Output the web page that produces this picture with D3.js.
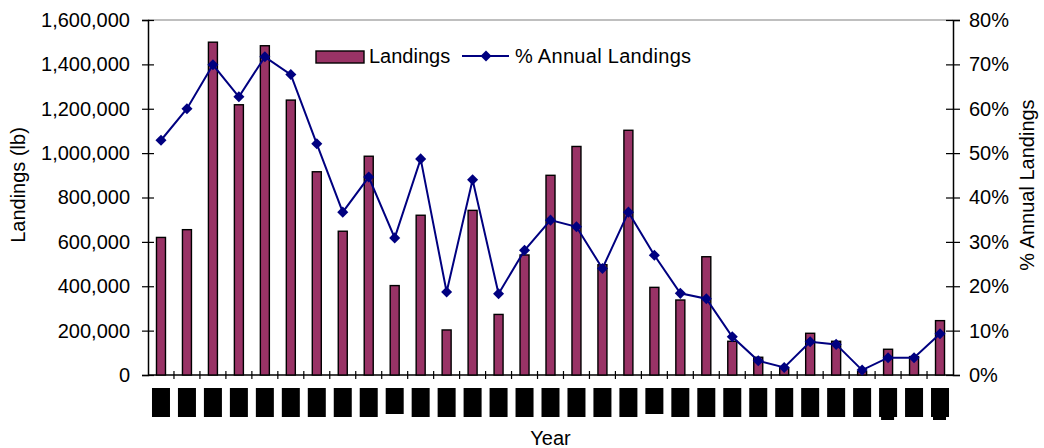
<!DOCTYPE html>
<html>
<head>
<meta charset="utf-8">
<script src="https://cdn.jsdelivr.net/npm/d3@7"></script>
<style>
    body { margin: 0; background: #fff; }
    svg { display: block; font-family: "Liberation Sans", Arial, sans-serif; }
</style>
</head>
<body>
<div id="viz"></div>
<script>
"use strict";
// values (year labels are blacked out there)
const yearIndex = d3.range(31);
const landings = [
    620000, 655000, 1500000, 1218000, 1484000, 1239000, 916000, 648000, 986000, 403000,
    720000, 203000, 742000, 273000, 541000, 900000, 1030000, 497000, 1103000, 395000,
    338000, 533000, 152000, 80000, 30000, 188000, 152000, 15000, 116000, 83000, 245000
];
const pctAnnual = [
    0.529, 0.600, 0.699, 0.627, 0.717, 0.677, 0.521, 0.367, 0.446, 0.309,
    0.487, 0.187, 0.440, 0.183, 0.281, 0.349, 0.334, 0.240, 0.367, 0.270,
    0.184, 0.172, 0.086, 0.032, 0.017, 0.075, 0.069, 0.011, 0.039, 0.039, 0.093
];
const leftTicks = d3.range(0, 1600001, 200000);
const rightTicks = d3.range(0, 0.81, 0.1);

(function(){
    const measurements = {
        width: 1044,
        height: 448,
        left: 148,
        right: 953,
        top: 20,
        bottom: 375
    }
    const colors = { bar: "#993366", line: "#000080" }

    const svg = d3.select('#viz').append("svg")
        .attr('width', measurements.width)
        .attr('height', measurements.height);

    const scaleX = d3.scaleBand()
        .domain(yearIndex)
        .range([measurements.left, measurements.right]);
    const scaleY = d3.scaleLinear()
        .domain([0, 1600000])
        .range([measurements.bottom, measurements.top]);
    const scaleY2 = d3.scaleLinear()
        .domain([0, 0.8])
        .range([measurements.bottom, measurements.top]);

    // plot area top border
    svg.append('line')
        .attr('x1', measurements.left).attr('x2', measurements.right)
        .attr('y1', measurements.top).attr('y2', measurements.top)
        .attr('stroke', '#808080').attr('stroke-width', 1.2);

    // left axis
    const leftAxis = svg.append('g')
        .attr('transform', `translate(${measurements.left},0)`)
        .call(d3.axisLeft(scaleY).tickValues(leftTicks).tickFormat(d3.format(",")).tickSize(6).tickPadding(12));
    leftAxis.selectAll('.tick line').attr('x1', 6);

    // right axis
    const rightAxis = svg.append('g')
        .attr('transform', `translate(${measurements.right},0)`)
        .call(d3.axisRight(scaleY2).tickValues(rightTicks).tickFormat(d3.format(".0%")).tickSize(7).tickPadding(9));
    rightAxis.selectAll('.tick line').attr('x1', -7);

    [leftAxis, rightAxis].forEach(function(ax) {
        ax.select('.domain').attr('stroke', '#000').attr('stroke-width', 1.5);
        ax.selectAll('.tick line').attr('stroke', '#000').attr('stroke-width', 1.2);
        ax.selectAll('.tick text').attr('fill', '#000').style('font-size', '20px')
            .style('font-family', '"Liberation Sans", Arial, sans-serif');
    });

    // x axis with ticks between categories
    const xAxis = svg.append('g');
    xAxis.append('line')
        .attr('x1', measurements.left).attr('x2', measurements.right)
        .attr('y1', measurements.bottom).attr('y2', measurements.bottom)
        .attr('stroke', '#000').attr('stroke-width', 1.5);
    xAxis.selectAll('.xtick')
        .data(yearIndex.slice(1))
        .enter()
        .append('line')
            .attr('x1', d => scaleX(d)).attr('x2', d => scaleX(d))
            .attr('y1', measurements.bottom - 4).attr('y2', measurements.bottom + 4)
            .attr('stroke', '#000').attr('stroke-width', 1.2);

    // blacked-out year labels as in the reference
    const shortLabels = [9, 19];
    const tailLabels = [28, 30];
    xAxis.selectAll('.yearbox')
        .data(yearIndex)
        .enter()
        .append('rect')
            .attr('x', d => scaleX(d) + scaleX.bandwidth() / 2 - 9)
            .attr('y', 388)
            .attr('width', 18)
            .attr('height', d => shortLabels.includes(d) ? 26 : 29)
            .attr('fill', '#000');
    xAxis.selectAll('.yeartail')
        .data(tailLabels)
        .enter()
        .append('rect')
            .attr('x', d => scaleX(d) + scaleX.bandwidth() / 2 - 7)
            .attr('y', 416)
            .attr('width', 13)
            .attr('height', 4)
            .attr('fill', '#000');

    // bars
    const barW = 9;
    svg.selectAll('.bar')
        .data(landings)
        .enter()
        .append('rect')
            .attr('x', (d, i) => scaleX(i) + scaleX.bandwidth() / 2 - barW / 2)
            .attr('y', d => scaleY(d))
            .attr('width', barW)
            .attr('height', d => measurements.bottom - scaleY(d))
            .attr('fill', colors.bar)
            .attr('stroke', '#000')
            .attr('stroke-width', 1.4);

    // percent line
    const line = d3.line()
        .x((d, i) => scaleX(i) + scaleX.bandwidth() / 2)
        .y(d => scaleY2(d));
    svg.append('path')
        .datum(pctAnnual)
        .attr('d', line)
        .attr('fill', 'none')
        .attr('stroke', colors.line)
        .attr('stroke-width', 2);

    const diamond = d3.symbol().type(d3.symbolDiamond2).size(78);
    svg.selectAll('.marker')
        .data(pctAnnual)
        .enter()
        .append('path')
            .attr('d', diamond)
            .attr('transform', (d, i) => `translate(${scaleX(i) + scaleX.bandwidth() / 2},${scaleY2(d)})`)
            .attr('fill', colors.line);

    // legend
    const legend = svg.append('g').style('font-size', '20px');
    legend.append('rect')
        .attr('x', 316).attr('y', 51).attr('width', 48).attr('height', 12)
        .attr('fill', colors.bar).attr('stroke', '#000').attr('stroke-width', 1.4);
    legend.append('text').attr('x', 369).attr('y', 63).text('Landings');
    legend.append('line')
        .attr('x1', 462).attr('x2', 509).attr('y1', 56).attr('y2', 56)
        .attr('stroke', colors.line).attr('stroke-width', 2);
    legend.append('path')
        .attr('d', diamond)
        .attr('transform', 'translate(486,56)')
        .attr('fill', colors.line);
    legend.append('text').attr('x', 515).attr('y', 63)
        .style('letter-spacing', '0.3px')
        .text('% Annual Landings');

    /* axis titles */
    svg.append('text')
        .attr('transform', 'translate(25,185) rotate(-90)')
        .attr('text-anchor', 'middle')
        .style('font-size', '20px')
        .text('Landings (lb)');

    svg.append('text')
        .attr('transform', 'translate(1034,185) rotate(-90)')
        .attr('text-anchor', 'middle')
        .style('font-size', '20px')
        .text('% Annual Landings');

    svg.append('text')
        .attr('x', (measurements.left + measurements.right) / 2)
        .attr('y', 445)
        .attr('text-anchor', 'middle')
        .style('font-size', '20px')
        .text('Year');
})()
</script>
</body>
</html>
